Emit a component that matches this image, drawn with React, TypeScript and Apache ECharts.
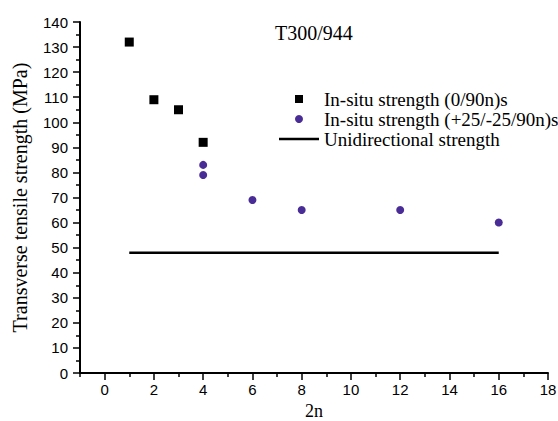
import React, { useEffect, useRef } from "react";
import * as echarts from "echarts";

// Layer thickness (2n) for each measurement
const crossPlyX = [1, 2, 3, 4];
const crossPlyStrength = [132, 109, 105, 92];

const angledPlyX = [4, 4, 6, 8, 12, 16];
const angledPlyStrength = [83, 79, 69, 65, 65, 60];

// Unidirectional reference strength, spanning the tested range
const udX = [1, 16];
const udStrength = [48, 48];

const xMajorTicks = [0, 2, 4, 6, 8, 10, 12, 14, 16, 18];
const xMinorTicks = [-1, 1, 3, 5, 7, 9, 11, 13, 15, 17];

const NAME_CROSS = "In-situ strength (0/90n)s";
const NAME_ANGLED = "In-situ strength (+25/-25/90n)s";
const NAME_UD = "Unidirectional strength";

const SERIF = "'Liberation Serif', 'DejaVu Serif', serif";
const SANS = "'Liberation Sans', Arial, sans-serif";

export default function App() {
  const ref = useRef<HTMLDivElement>(null);

  useEffect(() => {
    if (!ref.current) return;
    const chart = echarts.init(ref.current, null, { renderer: "svg" });

    const axisLine = {
      show: true,
      onZero: false,
      lineStyle: { color: "#000", width: 2 },
    };

    chart.setOption({
      animation: false,
      backgroundColor: "#fff",
      title: {
        text: "T300/944",
        left: 275,
        top: 23,
        padding: 0,
        textStyle: {
          fontFamily: SERIF,
          fontSize: 20,
          fontWeight: "normal",
          color: "#000",
        },
      },
      legend: {
        orient: "vertical",
        left: 279,
        top: 89,
        padding: 0,
        itemGap: 0,
        itemWidth: 40,
        itemHeight: 8,
        selectedMode: false,
        textStyle: {
          fontFamily: SERIF,
          fontSize: 19,
          lineHeight: 20,
          color: "#000",
        },
        data: [
          { name: NAME_CROSS, icon: "path://M0,0H10V10H0Z" },
          { name: NAME_ANGLED, icon: "circle" },
          { name: NAME_UD, icon: "path://M0,0H40V2.5H0Z" },
        ],
      },
      grid: {
        left: 80,
        right: 10,
        top: 22,
        bottom: 48,
        containLabel: false,
        outerBoundsMode: "none",
      },
      xAxis: [
        {
          type: "value",
          min: -1,
          max: 18,
          name: "2n",
          nameLocation: "middle",
          nameGap: 28,
          nameTextStyle: { fontFamily: SERIF, fontSize: 18, color: "#000" },
          axisLine,
          splitLine: { show: false },
          axisTick: {
            show: true,
            inside: false,
            length: 7,
            customValues: xMajorTicks,
            lineStyle: { color: "#000", width: 1.5 },
          },
          axisLabel: {
            customValues: xMajorTicks,
            margin: 9,
            fontFamily: SANS,
            fontSize: 15,
            color: "#000",
          },
        },
        {
          type: "value",
          position: "bottom",
          min: -1,
          max: 18,
          axisLine: { show: false, onZero: false },
          splitLine: { show: false },
          axisLabel: { show: false },
          axisTick: {
            show: true,
            length: 4,
            customValues: xMinorTicks,
            lineStyle: { color: "#000", width: 1.5 },
          },
        },
      ],
      yAxis: {
        type: "value",
        min: 0,
        max: 140,
        interval: 10,
        name: "Transverse tensile strength (MPa)",
        nameLocation: "middle",
        nameGap: 50,
        nameTextStyle: { fontFamily: SERIF, fontSize: 20, color: "#000" },
        axisLine,
        splitLine: { show: false },
        axisTick: {
          show: true,
          length: 7,
          lineStyle: { color: "#000", width: 1.5 },
        },
        minorTick: {
          show: true,
          splitNumber: 2,
          length: 4,
          lineStyle: { color: "#000", width: 1.5 },
        },
        axisLabel: {
          margin: 12,
          fontFamily: SANS,
          fontSize: 15,
          color: "#000",
        },
      },
      series: [
        {
          name: NAME_CROSS,
          type: "scatter",
          symbol: "rect",
          symbolSize: 9,
          itemStyle: { color: "#000", opacity: 1 },
          data: crossPlyX.map((x, i) => [x, crossPlyStrength[i]]),
        },
        {
          name: NAME_ANGLED,
          type: "scatter",
          symbol: "circle",
          symbolSize: 8,
          itemStyle: { color: "#4a2c96", opacity: 1 },
          data: angledPlyX.map((x, i) => [x, angledPlyStrength[i]]),
        },
        {
          name: NAME_UD,
          type: "line",
          symbol: "none",
          lineStyle: { color: "#000", width: 2.5 },
          itemStyle: { color: "#000" },
          data: udX.map((x, i) => [x, udStrength[i]]),
        },
      ],
    });

    return () => chart.dispose();
  }, []);

  return (
    <div
      ref={ref}
      style={{ position: "absolute", left: 0, top: 0, width: 558, height: 421 }}
    />
  );
}
